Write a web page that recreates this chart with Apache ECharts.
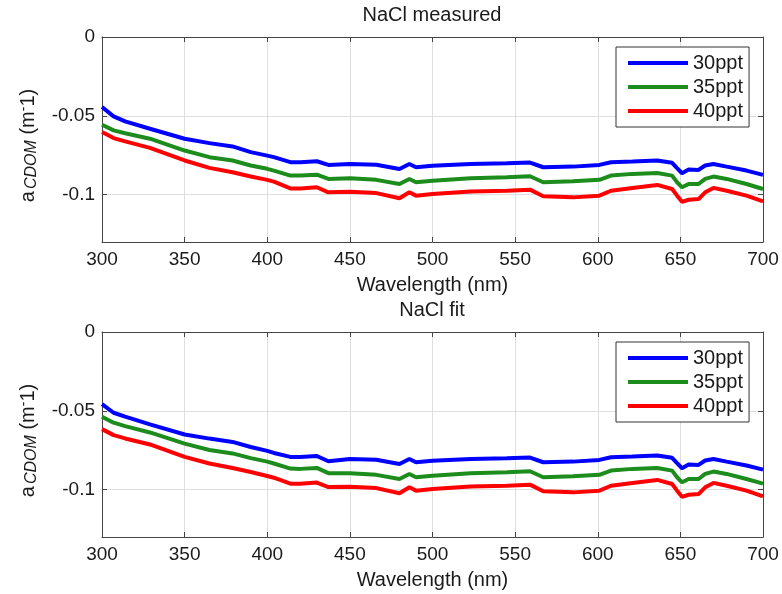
<!DOCTYPE html>
<html>
<head>
<meta charset="utf-8">
<script src="https://cdn.jsdelivr.net/npm/echarts@6/dist/echarts.min.js"></script>
<style>
    html, body { margin: 0; padding: 0; background: #fff; }
    #chart { width: 782px; height: 594px; }
</style>
</head>
<body>
<div id="chart"></div>
<script>
// wavelength (nm)
const wl = [300, 307, 314, 329, 350, 365, 379, 390, 400, 404, 414, 420, 430, 437, 450, 466, 480, 486, 490, 500,
    523, 545, 559, 567, 585, 601, 608, 621, 636, 645, 648, 651, 655, 661, 665, 670, 678, 690, 700]

// NaCl measured
const meas30 = [-0.0444, -0.0503, -0.0535, -0.0582, -0.0645, -0.0673, -0.0694, -0.0730, -0.0752, -0.0762, -0.0794, -0.0794, -0.0788, -0.0811, -0.0805, -0.0810, -0.0837, -0.0805, -0.0826, -0.0817,
    -0.0805, -0.0800, -0.0796, -0.0826, -0.0822, -0.0811, -0.0794, -0.0790, -0.0783, -0.0798, -0.0832, -0.0864, -0.0841, -0.0843, -0.0815, -0.0805, -0.0822, -0.0847, -0.0874]
const meas35 = [-0.0556, -0.0592, -0.0610, -0.0645, -0.0720, -0.0762, -0.0783, -0.0815, -0.0836, -0.0847, -0.0879, -0.0879, -0.0873, -0.0900, -0.0896, -0.0906, -0.0932, -0.0900, -0.0921, -0.0911,
    -0.0896, -0.0890, -0.0883, -0.0921, -0.0915, -0.0906, -0.0879, -0.0868, -0.0862, -0.0879, -0.0921, -0.0953, -0.0932, -0.0932, -0.0900, -0.0885, -0.0900, -0.0932, -0.0964]
const meas40 = [-0.0603, -0.0641, -0.0662, -0.0703, -0.0783, -0.0830, -0.0858, -0.0885, -0.0906, -0.0917, -0.0960, -0.0960, -0.0953, -0.0985, -0.0981, -0.0990, -0.1023, -0.0985, -0.1006, -0.0996,
    -0.0980, -0.0975, -0.0968, -0.1010, -0.1017, -0.1006, -0.0975, -0.0957, -0.0938, -0.0964, -0.1006, -0.1045, -0.1032, -0.1028, -0.0985, -0.0957, -0.0975, -0.1006, -0.1042]

// NaCl fit
const fit30 = [-0.0457, -0.0512, -0.0537, -0.0586, -0.0650, -0.0676, -0.0697, -0.0729, -0.0754, -0.0767, -0.0792, -0.0792, -0.0786, -0.0820, -0.0805, -0.0810, -0.0837, -0.0805, -0.0826, -0.0817,
    -0.0805, -0.0800, -0.0796, -0.0826, -0.0822, -0.0811, -0.0794, -0.0790, -0.0783, -0.0798, -0.0832, -0.0864, -0.0841, -0.0843, -0.0815, -0.0805, -0.0822, -0.0847, -0.0873]
const fit35 = [-0.0537, -0.0575, -0.0597, -0.0637, -0.0708, -0.0748, -0.0770, -0.0800, -0.0822, -0.0834, -0.0866, -0.0868, -0.0862, -0.0895, -0.0896, -0.0906, -0.0932, -0.0900, -0.0921, -0.0911,
    -0.0896, -0.0890, -0.0883, -0.0921, -0.0915, -0.0906, -0.0879, -0.0868, -0.0862, -0.0879, -0.0921, -0.0953, -0.0932, -0.0932, -0.0900, -0.0885, -0.0900, -0.0932, -0.0962]
const fit40 = [-0.0616, -0.0654, -0.0675, -0.0713, -0.0792, -0.0834, -0.0862, -0.0888, -0.0913, -0.0924, -0.0962, -0.0962, -0.0955, -0.0983, -0.0981, -0.0990, -0.1023, -0.0985, -0.1006, -0.0996,
    -0.0980, -0.0975, -0.0968, -0.1010, -0.1017, -0.1006, -0.0975, -0.0957, -0.0938, -0.0964, -0.1006, -0.1045, -0.1032, -0.1028, -0.0985, -0.0957, -0.0975, -0.1006, -0.1043]

const names = ['30ppt', '35ppt', '40ppt']
const colors = ['#0000ff', '#1c8c1c', '#ff0000']
const titles = ['NaCl measured', 'NaCl fit']
const yTicks = [-0.1, -0.05, 0]

const FONT = 'Liberation Sans, Arial, sans-serif'
const TXT = '#1a1a1a'

const chart = echarts.init(document.getElementById('chart'))

const gridTops = [37, 332]

function xAxes(gi) {
    const base = {
        type: 'value', gridIndex: gi, min: 300, max: 700, interval: 50,
        axisLine: { show: true, onZero: false, lineStyle: { color: '#444' } },
        axisTick: { show: true, inside: true, length: 5, lineStyle: { color: '#444' } }
    }
    return [
        Object.assign({}, base, {
            position: 'bottom',
            name: 'Wavelength (nm)', nameLocation: 'middle', nameGap: 33,
            nameTextStyle: { fontFamily: FONT, fontSize: 20, color: TXT },
            axisLabel: { fontFamily: FONT, fontSize: 19, color: TXT, margin: 8 },
            splitLine: { show: true, lineStyle: { color: '#dedede' } }
        }),
        Object.assign({}, base, {
            position: 'top', axisLabel: { show: false }, splitLine: { show: false }
        })
    ]
}

function yAxes(gi) {
    const base = {
        type: 'value', gridIndex: gi, min: -0.13, max: 0,
        axisLine: { show: true, onZero: false, lineStyle: { color: '#444' } },
        axisTick: { show: true, inside: true, length: 5, customValues: yTicks, lineStyle: { color: '#444' } }
    }
    return [
        Object.assign({}, base, {
            position: 'left',
            name: '{n|a}{sub|CDOM}{n| (m}{sup|-}{end|1)}', nameLocation: 'middle', nameGap: 58,
            nameTextStyle: {
                fontFamily: FONT, fontSize: 20, color: TXT,
                rich: {
                    n: { fontFamily: FONT, fontSize: 20, color: TXT, lineHeight: 23, verticalAlign: 'middle' },
                    end: { fontFamily: FONT, fontSize: 20, color: TXT, lineHeight: 23, verticalAlign: 'middle', padding: [0, 12, 0, 0] },
                    sub: { fontFamily: FONT, fontSize: 16, fontStyle: 'italic', color: TXT, lineHeight: 16, padding: [9, 0, 0, 2], verticalAlign: 'bottom' },
                    sup: { fontFamily: FONT, fontSize: 14, color: TXT, lineHeight: 14, padding: [0, 0, 10, 0], verticalAlign: 'top' }
                }
            },
            axisLabel: {
                fontFamily: FONT, fontSize: 19, color: TXT, margin: 7, customValues: yTicks,
                formatter: v => (v === 0 ? '0' : String(+v.toFixed(2)))
            },
            splitLine: { show: true, lineStyle: { color: '#dedede' } }
        }),
        Object.assign({}, base, {
            position: 'right', axisLabel: { show: false }, splitLine: { show: false }
        })
    ]
}

const series = []
;[[meas30, meas35, meas40], [fit30, fit35, fit40]].forEach((group, gi) => {
    group.forEach((vals, k) => {
        series.push({
            name: names[k],
            type: 'line',
            xAxisIndex: gi * 2,
            yAxisIndex: gi * 2,
            symbol: 'none',
            animation: false,
            lineStyle: { width: 4, color: colors[k] },
            itemStyle: { color: colors[k] },
            data: wl.map((w, i) => [w, vals[i]])
        })
    })
})

chart.setOption({
    backgroundColor: '#fff',
    animation: false,
    title: titles.map((t, gi) => ({
        text: t,
        left: 427,
        top: gridTops[gi] - 37,
        textAlign: 'center',
        textStyle: { fontFamily: FONT, fontSize: 20, fontWeight: 'normal', color: TXT }
    })),
    legend: gridTops.map(t => ({
        data: names,
        orient: 'vertical',
        left: 616,
        top: t + 10,
        icon: 'rect',
        itemWidth: 60,
        itemHeight: 4,
        itemGap: 4,
        itemTextGap: 7,
        padding: [6, 6, 6, 12],
        borderColor: '#333',
        borderWidth: 1,
        backgroundColor: '#fff',
        textStyle: { fontFamily: FONT, fontSize: 20, color: TXT, lineHeight: 20 }
    })),
    grid: gridTops.map(t => ({ left: 102, right: 19, top: t, height: 205 })),
    xAxis: [].concat(xAxes(0), xAxes(1)),
    yAxis: [].concat(yAxes(0), yAxes(1)),
    series: series
})
</script>
</body>
</html>
